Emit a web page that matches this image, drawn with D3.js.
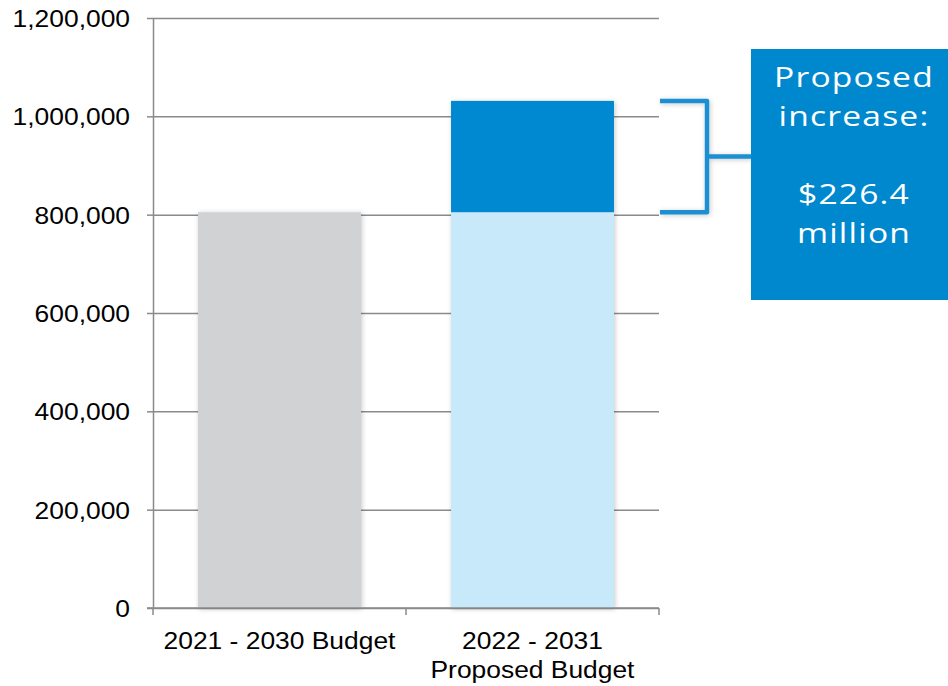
<!DOCTYPE html>
<html>
<head>
<meta charset="utf-8">
<script src="https://cdn.jsdelivr.net/npm/d3@7"></script>
<style>
  body { margin: 0; background: #fff; }
  svg { display: block; }
</style>
</head>
<body>
<svg id="chart" width="948" height="686"></svg>
<script>
// data
const categories = ["2021 - 2030 Budget", "2022 - 2031\nProposed Budget"];
const baseValues = [805000, 805000];
const increaseValues = [0, 226400];
const yTicks = [0, 200000, 400000, 600000, 800000, 1000000, 1200000];
const calloutLines = ["Proposed", "increase:", "", "$226.4", "million"];

const svg = d3.select("#chart");
const width = 948, height = 686;
const margin = { top: 18, right: 289, bottom: 78, left: 153 };

const gridColor = "#8a8a8a";
const colors = { base0: "#d1d2d4", base1: "#c7e9f9", increase: "#0088d1" };
const labelFont = "'Liberation Sans', Arial, sans-serif";
const stretch = 1.1; // the source text is a bit wider than plain Arial

// horizontal stretch around an anchor x
const widen = (cx, s) => `translate(${cx},0) scale(${s},1) translate(${-cx},0)`;

// shadow filter for bars and bracket
const defs = svg.append("defs");
defs.append("filter")
    .attr("id", "shadow")
    .attr("x", "-10%").attr("y", "-10%")
    .attr("width", "120%").attr("height", "120%")
    .append("feDropShadow")
    .attr("dx", 1).attr("dy", 1)
    .attr("stdDeviation", 2.5)
    .attr("flood-color", "#000")
    .attr("flood-opacity", 0.22);

const x = d3.scaleBand()
    .domain(categories)
    .range([margin.left, width - margin.right])
    .paddingInner(0.356)
    .paddingOuter(0.178);

const y = d3.scaleLinear()
    .domain([0, 1200000])
    .range([height - margin.bottom, margin.top]);

// grid lines
svg.append("g")
    .attr("transform", `translate(${margin.left},0)`)
    .call(d3.axisLeft(y).tickValues(yTicks).tickSize(-(width - margin.right - margin.left)).tickFormat("").tickSizeOuter(0))
    .call(g => g.select(".domain").remove())
    .selectAll("line")
    .attr("stroke", gridColor)
    .attr("stroke-width", 1.5);

// y axis with labels
svg.append("g")
    .attr("transform", `translate(${margin.left},0)`)
    .call(d3.axisLeft(y).tickValues(yTicks).tickSize(6).tickPadding(17).tickFormat(d3.format(",")).tickSizeOuter(0))
    .call(g => g.select(".domain").attr("stroke", gridColor).attr("stroke-width", 1.5))
    .call(g => g.selectAll("line").attr("stroke", gridColor).attr("stroke-width", 1.5))
    .call(g => g.selectAll("text")
        .attr("fill", "#000")
        .attr("dy", "0.36em")
        .attr("transform", widen(-23, stretch))
        .style("font-family", labelFont)
        .style("font-size", "24px"));

// bars
const bars = svg.append("g").attr("filter", "url(#shadow)");
categories.forEach((c, i) => {
    bars.append("rect")
        .attr("x", x(c))
        .attr("width", x.bandwidth())
        .attr("y", y(baseValues[i]))
        .attr("height", y(0) - y(baseValues[i]))
        .attr("fill", i === 0 ? colors.base0 : colors.base1);
    if (increaseValues[i] > 0) {
        bars.append("rect")
            .attr("x", x(c))
            .attr("width", x.bandwidth())
            .attr("y", y(baseValues[i] + increaseValues[i]))
            .attr("height", y(baseValues[i]) - y(baseValues[i] + increaseValues[i]))
            .attr("fill", colors.increase);
    }
});

// x axis: line and ticks at band edges
const xAxis = svg.append("g").attr("transform", `translate(0,${y(0)})`);
xAxis.append("line")
    .attr("x1", margin.left - 6).attr("x2", width - margin.right)
    .attr("stroke", gridColor).attr("stroke-width", 1.5);
const edges = [margin.left, margin.left + x.step(), width - margin.right];
xAxis.selectAll(".edge")
    .data(edges)
    .join("line")
    .attr("x1", d => d).attr("x2", d => d)
    .attr("y1", 0).attr("y2", 7)
    .attr("stroke", gridColor).attr("stroke-width", 1.5);

categories.forEach(c => {
    const cx = x(c) + x.bandwidth() / 2;
    const t = xAxis.append("text")
        .attr("text-anchor", "middle")
        .attr("fill", "#000")
        .attr("transform", widen(cx, stretch))
        .style("font-family", labelFont)
        .style("font-size", "24px");
    c.split("\n").forEach((l, j) => {
        t.append("tspan")
            .attr("x", cx)
            .attr("y", 41 + j * 29)
            .text(l);
    });
});

// bracket showing the increase
const i1 = 1;
const yTop = y(baseValues[i1] + increaseValues[i1]);
const yBot = y(baseValues[i1]);
const bx0 = width - margin.right + 1, bx1 = 707, bx2 = 752;
const bracketColor = "#1a8fd3";
svg.append("path")
    .attr("d", `M${bx0},${yTop} H${bx1} V${yBot} H${bx0} M${bx1},${(yTop + yBot) / 2} H${bx2}`)
    .attr("fill", "none")
    .attr("stroke", bracketColor)
    .attr("stroke-width", 4.5)
    .attr("stroke-linejoin", "round")
    .attr("filter", "url(#shadow)");

// callout box
svg.append("rect")
    .attr("x", 751).attr("y", 49)
    .attr("width", width - 751).attr("height", 251)
    .attr("fill", "#0088cf");

const calloutX = 854;
const callout = svg.append("text")
    .attr("text-anchor", "middle")
    .attr("fill", "#fff")
    .attr("transform", widen(calloutX, 1.2))
    .style("font-family", "'Open Sans', sans-serif")
    .style("font-size", "28px")
    .style("letter-spacing", "1px");
calloutLines.forEach((l, j) => {
    callout.append("tspan")
        .attr("x", calloutX)
        .attr("y", 87 + j * 39)
        .text(l);
});
</script>
</body>
</html>
